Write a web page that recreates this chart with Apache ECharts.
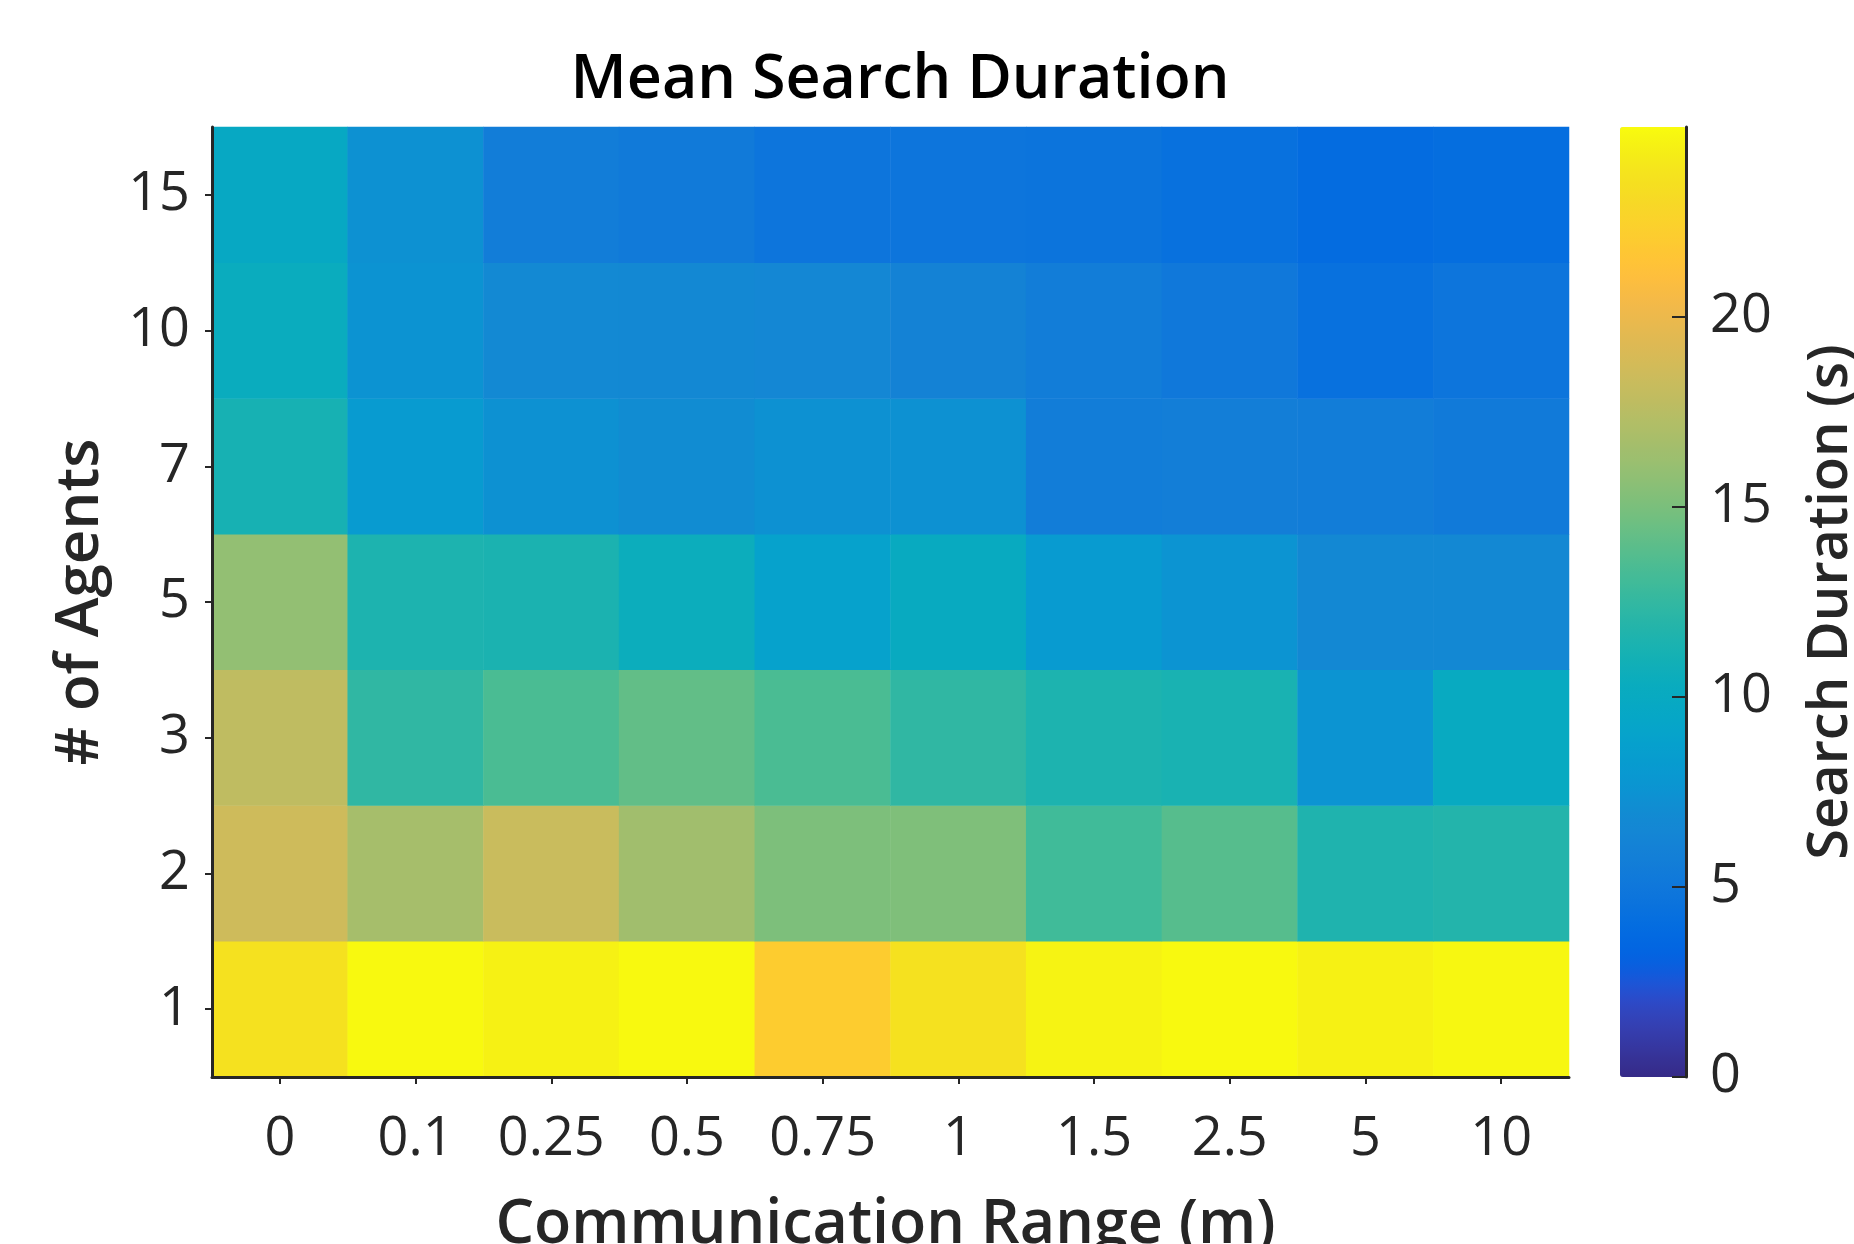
<!DOCTYPE html>
<html>
<head>
<meta charset="utf-8">
<script src="https://cdn.jsdelivr.net/npm/echarts@6/dist/echarts.min.js"></script>
<style>
  html, body { margin: 0; padding: 0; background: #ffffff; }
  #chart { width: 1854px; height: 1244px; }
</style>
</head>
<body>
<div id="chart"></div>
<script>
// ---- data ----
const commRange = ['0', '0.1', '0.25', '0.5', '0.75', '1', '1.5', '2.5', '5', '10'];
const agentCounts = ['1', '2', '3', '5', '7', '10', '15'];

const duration1  = [23.6, 24.9, 24.5, 24.9, 22.1, 23.6, 24.6, 24.9, 24.5, 24.8];
const duration2  = [18.5, 16.7, 18.3, 16.5, 15.1, 15.2, 13.0, 13.8, 11.6, 11.8];
const duration3  = [17.8, 12.4, 13.4, 14.2, 13.4, 12.4, 11.5, 11.3,  7.6, 10.0];
const duration5  = [15.9, 11.5, 11.4, 10.5,  8.9, 10.1,  8.2,  7.6,  6.6,  6.6];
const duration7  = [11.2,  8.2,  7.4,  7.0,  7.4,  7.4,  5.6,  5.7,  5.6,  5.3];
const duration10 = [10.3,  7.5,  6.7,  6.6,  6.5,  6.1,  5.6,  5.1,  4.4,  4.8];
const duration15 = [ 9.8,  7.4,  5.6,  5.3,  4.8,  4.8,  4.7,  4.4,  3.9,  4.1];

const colorMin = 0;
const colorMax = 25;
const colorTickStep = 5;

// ---- style: MATLAB parula colormap ----
const parula = ['#352a87','#363093','#3637a0','#353dad','#3243ba','#2c4ac7','#2053d4','#0f5cdd',
  '#0363e1','#0268e1','#046de0','#0871de','#0d75dc','#1079da','#127dd8','#1481d6',
  '#1485d4','#1389d3','#108ed2','#0c93d2','#0998d1','#079ccf','#06a0cd','#06a4ca',
  '#06a7c6','#07a9c2','#0aacbe','#0faeb9','#15b1b4','#1db3af','#25b5a9','#2eb7a4',
  '#38b99e','#42bb98','#4dbc92','#59bd8c','#65be86','#71bf80','#7cbf7b','#87bf77',
  '#92bf73','#9cbf6f','#a5be6b','#aebe67','#b7bd64','#c0bc60','#c8bc5d','#d1bb59',
  '#d9ba56','#e1b952','#e9b94e','#f1b94a','#f8bb44','#fdbe3d','#ffc337','#fec832',
  '#fcce2e','#fad32a','#f7d826','#f5de21','#f5e41d','#f5eb18','#f6f313','#f9fb0e'];

const rows = [duration1, duration2, duration3, duration5, duration7, duration10, duration15];
const cells = [];
rows.forEach((row, yi) => row.forEach((v, xi) => cells.push([xi, yi, v])));

const FONT = "'Open Sans', 'Noto Sans', sans-serif";
const INK = '#262626';

const chart = echarts.init(document.getElementById('chart'), null, { renderer: 'canvas' });
chart.setOption({
  backgroundColor: '#ffffff',
  animation: false,
  title: {
    text: 'Mean Search Duration',
    left: 900,
    top: 50,
    padding: 0,
    textAlign: 'center',
    textStyle: { fontFamily: FONT, fontSize: 61, fontWeight: 600, color: '#000000' }
  },
  grid: [
    { left: 212, top: 127, width: 1357, height: 950, outerBoundsMode: 'none', containLabel: false },
    { left: 1620, top: 127, width: 66, height: 950, outerBoundsMode: 'none', containLabel: false }
  ],
  xAxis: [
    {
      type: 'category',
      gridIndex: 0,
      data: commRange,
      z: 10,
      axisLine: { show: true, lineStyle: { color: INK, width: 3 } },
      axisTick: { show: true, interval: 0, alignWithLabel: true, length: 7, lineStyle: { color: INK, width: 2 } },
      axisLabel: { interval: 0, hideOverlap: false, fontFamily: FONT, fontSize: 54, color: INK, margin: 36 },
      splitLine: { show: false },
      name: 'Communication Range (m)',
      nameLocation: 'middle',
      nameGap: 118,
      nameTextStyle: { fontFamily: FONT, fontSize: 61, fontWeight: 600, color: INK, padding: [0, 10, 0, 0] }
    },
    {
      type: 'value',
      gridIndex: 1,
      show: false,
      min: 0,
      max: 1
    }
  ],
  yAxis: [
    {
      type: 'category',
      gridIndex: 0,
      data: agentCounts,
      z: 10,
      axisLine: { show: true, lineStyle: { color: INK, width: 3 } },
      axisTick: { show: true, interval: 0, alignWithLabel: true, length: 7, lineStyle: { color: INK, width: 2 } },
      axisLabel: { interval: 0, fontFamily: FONT, fontSize: 54, color: INK, margin: 22, padding: [6, 0, 0, 0] },
      splitLine: { show: false },
      name: '# of Agents',
      nameLocation: 'middle',
      nameGap: 101,
      nameTextStyle: { fontFamily: FONT, fontSize: 60, fontWeight: 600, color: INK }
    },
    {
      type: 'value',
      gridIndex: 1,
      position: 'right',
      min: colorMin,
      max: colorMax,
      interval: colorTickStep,
      z: 10,
      axisLine: { show: true, onZero: false, lineStyle: { color: INK, width: 3 } },
      axisTick: { show: true, inside: true, length: 14, lineStyle: { color: INK, width: 2 } },
      axisLabel: {
        fontFamily: FONT, fontSize: 54, color: INK, margin: 24,
        showMaxLabel: false
      },
      splitLine: { show: false },
      name: 'Search Duration (s)',
      nameLocation: 'middle',
      nameGap: 117,
      nameTextStyle: { fontFamily: FONT, fontSize: 56, fontWeight: 600, color: INK }
    }
  ],
  visualMap: {
    type: 'continuous',
    seriesIndex: 0,
    min: colorMin,
    max: colorMax,
    calculable: false,
    hoverLink: false,
    orient: 'vertical',
    left: 1620,
    top: 127,
    padding: 0,
    itemWidth: 66,
    itemHeight: 950,
    text: null,
    inRange: { color: parula }
  },
  series: [
    {
      type: 'heatmap',
      xAxisIndex: 0,
      yAxisIndex: 0,
      data: cells,
      itemStyle: { borderWidth: 0 },
      emphasis: { disabled: true }
    },
    {
      type: 'scatter',
      xAxisIndex: 1,
      yAxisIndex: 1,
      data: [],
      silent: true
    }
  ]
});
</script>
</body>
</html>
